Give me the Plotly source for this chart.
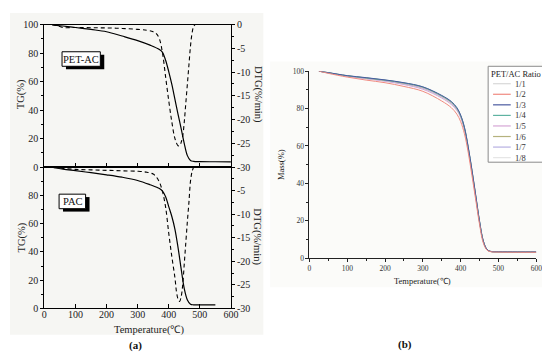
import plotly.graph_objects as go

W, H = 550, 352

# ---------------- data: panel (a) ----------------
pet_tg_T = [25, 50, 100, 150, 200, 250, 300, 340, 370, 380, 390, 400, 410, 420, 430, 440, 450, 460, 470, 480, 500, 550, 600]
pet_tg = [100, 99.2, 98, 96.6, 95, 92, 88.8, 85.6, 82.5, 80.5, 75, 67, 58, 47.5, 37, 27, 16.5, 8, 4.6, 4, 3.8, 3.7, 3.6]

pet_dtg_T = [25, 40, 60, 100, 150, 200, 250, 300, 330, 350, 360, 370, 380, 390, 400, 410, 420, 430, 435, 440, 445, 450, 455, 460, 465, 470, 475, 480, 485]
pet_dtg = [0, -0.2, -0.6, -0.6, -0.65, -0.7, -0.8, -1.0, -1.2, -1.5, -1.9, -3, -6, -11, -16, -20.5, -24, -25.5, -25.5, -24.8, -23.5, -20.5, -16.5, -12.5, -8.5, -4.5, -1.8, -0.4, 0]

pac_tg_T = [30, 60, 100, 150, 200, 250, 300, 340, 370, 380, 390, 400, 410, 420, 430, 440, 450, 460, 470, 480, 500, 550]
pac_tg = [99.5, 98.5, 97.4, 96, 94.5, 92.8, 90.5, 87.5, 84.8, 83, 79, 72, 65, 56, 43, 28, 14, 6, 3, 2.6, 2.5, 2.5]

pac_dtg_T = [30, 40, 60, 100, 150, 200, 250, 300, 330, 350, 360, 370, 380, 390, 400, 410, 420, 425, 430, 435, 440, 445, 450, 455, 460, 465, 470, 475, 480]
pac_dtg = [0, -0.1, -0.3, -0.5, -0.6, -0.7, -0.8, -0.9, -1.1, -1.5, -2.1, -3.2, -5.2, -8.5, -14, -19, -23.5, -26.5, -28, -28.5, -27.5, -25, -20.5, -16, -11.5, -7.5, -3, -1, 0]

# ---------------- data: panel (b) ----------------
ratio_T = [25, 50, 100, 150, 200, 250, 300, 350, 375, 390, 400, 410, 420, 430, 440, 450, 460, 470, 480, 500, 550, 600]
ratio_labels = ["1/1", "1/2", "1/3", "1/4", "1/5", "1/6", "1/7", "1/8"]
mass_1_1 = [100, 99.0, 97.3, 96.0, 94.8, 93.0, 90.6, 86.0, 82.5, 79.2, 75.5, 69.0, 58.5, 46.0, 32.5, 19.0, 8.8, 4.4, 3.5, 3.3, 3.2, 3.2]
mass_1_2 = [100, 98.8, 96.8, 95.2, 93.8, 91.8, 89.2, 84.0, 80.5, 77.0, 73.0, 66.5, 56.5, 44.0, 31.0, 18.0, 8.0, 4.2, 3.4, 3.2, 3.1, 3.1]
mass_1_3 = [100, 99.2, 97.6, 96.5, 95.3, 93.8, 91.6, 87.0, 83.8, 80.5, 76.5, 70.0, 59.5, 47.0, 33.5, 19.8, 9.2, 4.6, 3.6, 3.4, 3.3, 3.3]
mass_1_4 = [100, 99.2, 97.5, 96.4, 95.2, 93.7, 91.5, 86.8, 83.6, 80.2, 76.2, 69.8, 59.2, 46.8, 33.2, 19.6, 9.0, 4.5, 3.5, 3.3, 3.2, 3.2]
mass_1_5 = [100, 99.0, 97.2, 95.9, 94.6, 92.8, 90.3, 85.6, 82.2, 79.0, 75.2, 68.8, 58.2, 45.8, 32.4, 19.0, 8.8, 4.4, 3.5, 3.3, 3.2, 3.2]
mass_1_6 = [100, 99.1, 97.5, 96.3, 95.1, 93.5, 91.3, 86.6, 83.3, 80.0, 76.0, 69.5, 59.0, 46.5, 33.0, 19.5, 9.0, 4.5, 3.5, 3.3, 3.2, 3.2]
mass_1_7 = [100, 99.1, 97.4, 96.1, 94.9, 93.2, 90.9, 86.3, 83.0, 79.6, 75.8, 69.2, 58.8, 46.3, 32.8, 19.3, 8.9, 4.5, 3.5, 3.3, 3.2, 3.2]
mass_1_8 = [100, 99.0, 97.3, 96.0, 94.7, 93.0, 90.7, 86.1, 82.8, 79.4, 75.6, 69.0, 58.6, 46.1, 32.6, 19.1, 8.8, 4.4, 3.5, 3.3, 3.2, 3.2]
ratio_mass = [mass_1_1, mass_1_2, mass_1_3, mass_1_4, mass_1_5, mass_1_6, mass_1_7, mass_1_8]
ratio_colors = ["#d8d8d8", "#f08a80", "#4a5aa0", "#5fb3a2", "#d6a6d6", "#b5b27e", "#b7b0e2", "#e6e6e6"]
draw_order = [0, 7, 4, 6, 5, 3, 2, 1]

tg_ticks = [0, 20, 40, 60, 80, 100]
dtg_ticks = [0, -5, -10, -15, -20, -25, -30]
temp_ticks = [0, 100, 200, 300, 400, 500, 600]

FONT = "Liberation Serif"


def px(x):
    return x / W


def py(y):
    return 1 - y / H


fig = go.Figure()

# panel (a) traces
fig.add_trace(go.Scatter(x=pet_tg_T, y=pet_tg, mode="lines", line=dict(color="black", width=1.2, shape="spline"), xaxis="x", yaxis="y"))
fig.add_trace(go.Scatter(x=pet_dtg_T, y=pet_dtg, mode="lines", line=dict(color="black", width=1.1, dash="4px,3px", shape="spline"), xaxis="x", yaxis="y2"))
fig.add_trace(go.Scatter(x=pac_tg_T, y=pac_tg, mode="lines", line=dict(color="black", width=1.2, shape="spline"), xaxis="x2", yaxis="y3"))
fig.add_trace(go.Scatter(x=pac_dtg_T, y=pac_dtg, mode="lines", line=dict(color="black", width=1.1, dash="4px,3px", shape="spline"), xaxis="x2", yaxis="y4"))

# panel (b) traces
for i in draw_order:
    fig.add_trace(go.Scatter(x=ratio_T, y=ratio_mass[i], mode="lines", name=ratio_labels[i],
                             line=dict(color=ratio_colors[i], width=1, shape="spline"), xaxis="x3", yaxis="y5"))

tickfont_a = dict(family=FONT, size=10, color="#222")
tickfont_b = dict(family=FONT, size=7.5, color="#333")

xdom_a = [px(35), px(225)]
top_dom = [py(159), py(12)]
bot_dom = [py(305), py(159)]

common_x_a = dict(domain=xdom_a, range=[0, 600], showline=True, linecolor="black", linewidth=1, mirror=True,
                  ticks="inside", ticklen=4, tickcolor="black", tickvals=temp_ticks, showgrid=False, zeroline=False,
                  tickfont=tickfont_a)
common_tg = dict(range=[0, 100], showline=True, linecolor="black", linewidth=1, ticks="outside", ticklen=3,
                 tickcolor="black", showgrid=False, zeroline=False, tickfont=tickfont_a,
                 minor=dict(dtick=10, ticks="outside", ticklen=2, tickcolor="black"))
common_dtg = dict(range=[-30, 0], showline=True, linecolor="black", linewidth=1, ticks="outside", ticklen=3,
                  tickcolor="black", showgrid=False, zeroline=False, tickfont=tickfont_a, side="right",
                  minor=dict(dtick=2.5, ticks="outside", ticklen=2, tickcolor="black"))

fig.update_layout(
    width=W, height=H, autosize=False,
    margin=dict(l=0, r=0, t=0, b=0),
    paper_bgcolor="white", plot_bgcolor="rgba(0,0,0,0)",
    showlegend=False,
    font=dict(family=FONT, color="#222"),
    xaxis=dict(anchor="y", showticklabels=False, **common_x_a),
    xaxis2=dict(anchor="y3", showticklabels=True, ticklabelstandoff=-3, **common_x_a),
    yaxis=dict(domain=top_dom, anchor="x", tickvals=tg_ticks, **common_tg),
    yaxis2=dict(overlaying="y", anchor="x", tickvals=dtg_ticks, ticktext=[str(v) for v in dtg_ticks], **common_dtg),
    yaxis3=dict(domain=bot_dom, anchor="x2", tickvals=tg_ticks[:-1], **common_tg),
    yaxis4=dict(overlaying="y3", anchor="x2", tickvals=dtg_ticks[1:], ticktext=[str(v) for v in dtg_ticks[1:]], **common_dtg),
    xaxis3=dict(domain=[px(305), px(536)], anchor="y5", range=[0, 600], showline=True, linecolor="#222", linewidth=1,
                ticks="outside", ticklen=3, tickcolor="#222", tickvals=temp_ticks, showgrid=False, zeroline=False,
                tickfont=tickfont_b, minor=dict(dtick=50, ticks="outside", ticklen=2, tickcolor="#222")),
    yaxis5=dict(domain=[py(253), py(60)], anchor="x3", range=[0, 100], showline=True, linecolor="#222", linewidth=1,
                ticks="outside", ticklen=3, tickcolor="#222", tickvals=tg_ticks, showgrid=False, zeroline=False,
                tickfont=tickfont_b, minor=dict(dtick=10, ticks="outside", ticklen=2, tickcolor="#222")),
)

shapes = []
# panel backgrounds
shapes.append(dict(type="rect", xref="paper", yref="paper", x0=0, x1=px(258), y0=py(332), y1=1,
                   fillcolor="#f6f6f3", line=dict(width=0), layer="below"))
shapes.append(dict(type="rect", xref="paper", yref="paper", x0=px(265), x1=1, y0=py(283), y1=py(50),
                   fillcolor="#fbfbf9", line=dict(width=0), layer="below"))

# inset labels with shadow
def label_box(x0, y0, x1, y1, text, dx=4, dy=3):
    shapes.append(dict(type="rect", xref="paper", yref="paper", x0=px(x0 + dx), x1=px(x1 + dx), y0=py(y1 + dy), y1=py(y0 + dy),
                       fillcolor="black", line=dict(width=0)))
    shapes.append(dict(type="rect", xref="paper", yref="paper", x0=px(x0), x1=px(x1), y0=py(y1), y1=py(y0),
                       fillcolor="white", line=dict(color="black", width=1)))
    return dict(x=px((x0 + x1) / 2), y=py((y0 + y1) / 2), xref="paper", yref="paper", text=text, showarrow=False,
                font=dict(family=FONT, size=10.5, color="#111"), xanchor="center", yanchor="middle")


annotations = []
annotations.append(label_box(53, 40, 92, 55, "PET-AC"))
annotations.append(label_box(50, 187, 77, 202, "PAC"))


def ann(x, y, text, size, angle=0, bold=False, color="#222", family=FONT):
    t = f"<b>{text}</b>" if bold else text
    annotations.append(dict(x=px(x), y=py(y), xref="paper", yref="paper", text=t, showarrow=False, textangle=angle,
                            font=dict(family=family, size=size, color=color), xanchor="center", yanchor="middle"))


# axis titles panel (a)
ann(12, 84, "TG(%)", 10.5, -90)
ann(12, 232, "TG(%)", 10.5, -90)
ann(252, 84, "DTG(%/min)", 10.5, 90)
ann(252, 231, "DTG(%/min)", 10.5, 90)
ann(142, 327, "Temperature(℃)", 10.5)
ann(128, 343, "(a)", 11, bold=True, color="#111")

# panel (b) titles
ann(276, 156, "Mass(%)", 8.5, -90)
ann(420, 277, "Temperature(℃)", 8.5)
ann(402, 342, "(b)", 11, bold=True, color="#111")

# legend panel (b)
shapes.append(dict(type="rect", xref="paper", yref="paper", x0=px(487), x1=px(544), y0=py(154), y1=py(55),
                   fillcolor="rgba(255,255,255,0.9)", line=dict(color="#8a8a8a", width=1)))
ann(515.5, 63, "PET/AC Ratio", 8.5)
for i, lab in enumerate(ratio_labels):
    yy = 73 + i * 10.9
    shapes.append(dict(type="line", xref="paper", yref="paper", x0=px(492), x1=px(510), y0=py(yy), y1=py(yy),
                       line=dict(color=ratio_colors[i], width=1.2)))
    annotations.append(dict(x=px(512), y=py(yy), xref="paper", yref="paper", text=lab, showarrow=False,
                            font=dict(family=FONT, size=8.5, color="#333"), xanchor="left", yanchor="middle"))

fig.update_layout(shapes=shapes, annotations=annotations)
fig.write_html("out.html")
